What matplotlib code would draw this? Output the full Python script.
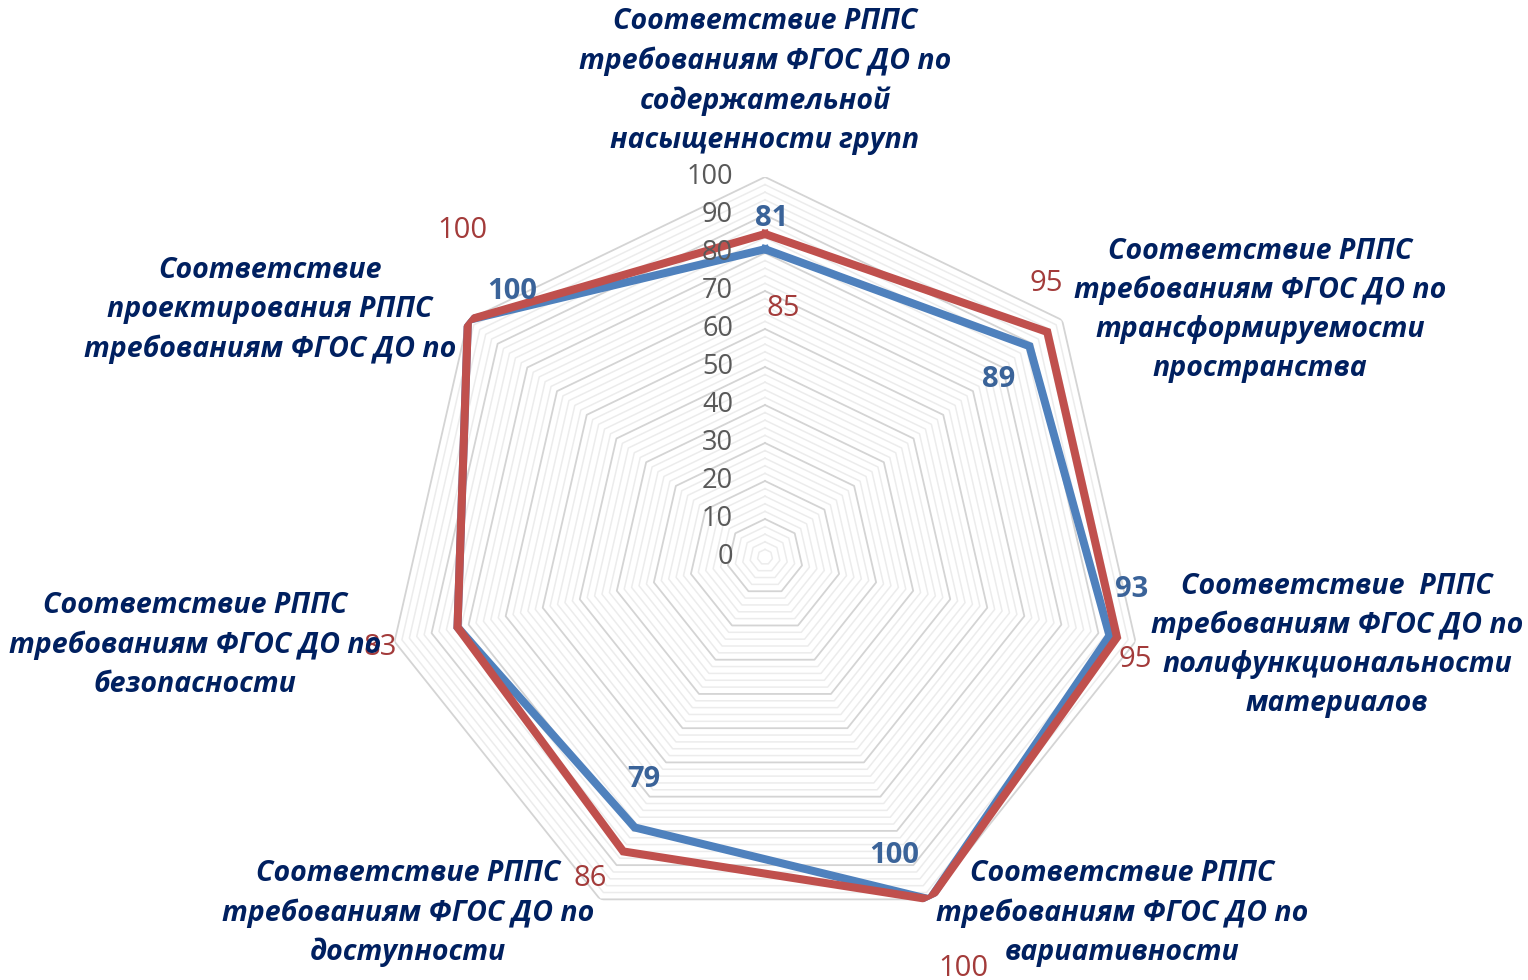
import numpy as np
import matplotlib
matplotlib.use('Agg')
import matplotlib.pyplot as plt

# Категории (оси лепестковой диаграммы)
categories = [
    'Соответствие РППС\nтребованиям ФГОС ДО по\nсодержательной\nнасыщенности групп',
    'Соответствие РППС\nтребованиям ФГОС ДО по\nтрансформируемости\nпространства',
    'Соответствие  РППС\nтребованиям ФГОС ДО по\nполифункциональности\nматериалов',
    'Соответствие РППС\nтребованиям ФГОС ДО по\nвариативности',
    'Соответствие РППС\nтребованиям ФГОС ДО по\nдоступности',
    'Соответствие РППС\nтребованиям ФГОС ДО по\nбезопасности',
    'Соответствие\nпроектирования РППС\nтребованиям ФГОС ДО по',
]

# Значения рядов
blue_values = [81, 89, 93, 100, 79, 83, 100]
red_values = [85, 95, 95, 100, 86, 83, 100]

# Подписи шкалы
r_ticks = [0, 10, 20, 30, 40, 50, 60, 70, 80, 90, 100]

plt.rcParams['font.family'] = ['Open Sans', 'DejaVu Sans']

W, H = 1528, 980
fig = plt.figure(figsize=(W / 100, H / 100), dpi=100)

cx, cy, R = 765, 557, 380
ax = fig.add_axes([(cx - R) / W, 1 - (cy + R) / H, 2 * R / W, 2 * R / H], projection='polar')
ax.set_theta_offset(np.pi / 2)
ax.set_theta_direction(-1)
ax.set_ylim(0, 100)
ax.grid(False)
ax.spines['polar'].set_visible(False)
ax.set_xticks([])
ax.set_yticks([])
ax.patch.set_alpha(0)

n = len(categories)
angles = np.linspace(0, 2 * np.pi, n, endpoint=False)
closed = np.append(angles, angles[0])

# Сетка: мелкая через 2, основная через 10
for r in range(2, 101, 2):
    major = r % 10 == 0
    ax.plot(closed, [r] * (n + 1), color='#d4d4d4' if major else '#ececec',
            lw=1.3 if major else 1.1, zorder=1)

# Подписи шкалы
for r in r_ticks:
    ax.annotate(str(r), xy=(0, r), xytext=(-32, 0), textcoords='offset pixels',
                ha='right', va='center', fontsize=19.5, color='#595959', zorder=5)

blue = '#4f81bd'
red = '#c0504d'
ax.plot(closed, blue_values + blue_values[:1], color=blue, lw=5.8, zorder=3,
        solid_joinstyle='miter')
ax.plot(closed, red_values + red_values[:1], color=red, lw=5.8, zorder=4,
        solid_joinstyle='miter')

# Подписи данных
blue_offsets = [(7, 31), (-31, -33), (22, 46), (-36, 44), (9, 48), None, (44, 29)]
red_offsets = [(18, -74), (-1, 48), (18, -22), (33, -69), (-33, -27), (-77, -20), (-6, 90)]
for a, v, off in zip(angles, blue_values, blue_offsets):
    if off is None:
        continue
    ax.annotate(str(v), xy=(a, v), xytext=off, textcoords='offset pixels',
                ha='center', va='center', fontsize=21, fontweight='bold',
                color='#3a6399', zorder=6)
for a, v, off in zip(angles, red_values, red_offsets):
    ax.annotate(str(v), xy=(a, v), xytext=off, textcoords='offset pixels',
                ha='center', va='center', fontsize=21, color='#a33b3a', zorder=7)

# Подписи категорий
label_pos = [(765, 81), (1260, 310), (1337, 645), (1122, 913), (408, 913), (195, 645), (270, 310)]
for text, (x, y) in zip(categories, label_pos):
    fig.text(x / W, 1 - y / H, text, ha='center', va='center', fontsize=20.5,
             fontweight='bold', fontstyle='italic', color='#002060',
             linespacing=1.45, zorder=8)

fig.savefig('out.png', dpi=100)
